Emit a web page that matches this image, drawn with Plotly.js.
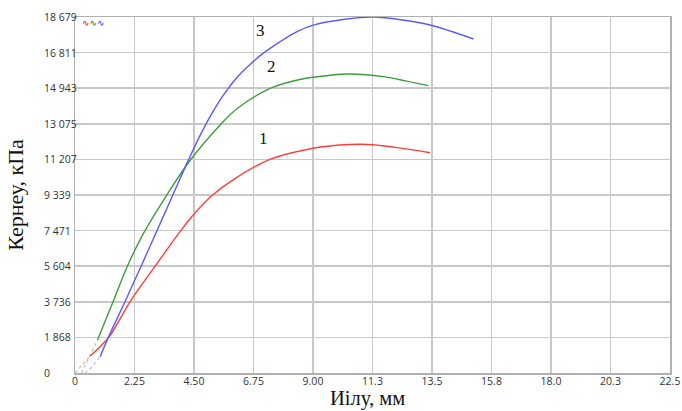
<!DOCTYPE html>
<html>
<head>
<meta charset="utf-8">
<script src="https://cdn.plot.ly/plotly-3.0.1.min.js"></script>
<style>
  html, body { margin: 0; padding: 0; background: #fff; }
  #chart { width: 682px; height: 411px; }
</style>
</head>
<body>
<div id="chart"></div>
<script>
// ---- data ----
const xTickVals = [0, 2.25, 4.5, 6.75, 9, 11.25, 13.5, 15.75, 18, 20.25, 22.5];
const xTickText = ["0", "2.25", "4.50", "6.75", "9.00", "11.3", "13.5", "15.8", "18.0", "20.3", "22.5"];
const yTickVals = [0, 1868, 3736, 5604, 7471, 9339, 11207, 13075, 14943, 16811, 18679];
const yTickText = ["0", "1 868", "3 736", "5 604", "7 471", "9 339", "11 207", "13 075", "14 943", "16 811", "18 679"];
const xTitle = "Иілу, мм";
const yTitle = "Кернеу, кПа";

// curve 1 (red)
const redStartX = [0, 0.57];
const redStartY = [0, 892];
const redX = [0.57, 0.95, 1.32, 2.08, 3.03, 3.91, 4.47, 5.17, 5.99, 7.37, 9.01, 10.0, 10.78, 11.27, 12.3, 13.43];
const redY = [892, 1380, 1950, 3736, 5604, 7300, 8290, 9300, 10150, 11207, 11790, 11960, 12000, 11980, 11800, 11559];

// curve 2 (green)
const greenStartX = [0.25, 0.85];
const greenStartY = [0, 1731];
const greenX = [0.85, 1.44, 1.98, 2.6, 3.47, 4.35, 5.48, 6.11, 7.4, 8.5, 9.5, 10.4, 11.66, 12.5, 13.36];
const greenY = [1731, 3736, 5604, 7350, 9339, 11150, 13000, 13850, 14943, 15400, 15600, 15689, 15550, 15330, 15075];

// curve 3 (blue)
const blueStartX = [0.38, 0.6, 0.95];
const blueStartY = [0, 250, 855];
const blueX = [0.95, 1.26, 1.89, 2.5, 3.1, 3.7, 4.3, 4.75, 5.2, 5.65, 6.2, 6.75, 7.0, 7.5, 8.38, 9.01, 10.2, 11.28, 12.4, 13.43, 15.07];
const blueY = [855, 1868, 3736, 5604, 7471, 9339, 11207, 12524, 13674, 14655, 15627, 16350, 16650, 17150, 17900, 18250, 18560, 18680, 18520, 18260, 17525];

const curveLabels = ["1", "2", "3"];
const labelX = [7.12, 7.44, 7.0];
const labelY = [12315, 16072, 17997];

const RED = "#ff3c3c", GREEN = "#3c9e3c", BLUE = "#5a5aff";

function faint(x, y, c) {
  return { x: x, y: y, mode: "lines", type: "scatter", hoverinfo: "skip",
    line: { color: c, width: 1.2, dash: "dot" }, opacity: 0.45, showlegend: false };
}
function solid(x, y, c) {
  return { x: x, y: y, mode: "lines", type: "scatter",
    line: { color: c, width: 1.4, shape: "spline", smoothing: 1 }, showlegend: false };
}

const traces = [
  faint(redStartX, redStartY, RED),
  faint(greenStartX, greenStartY, GREEN),
  faint(blueStartX, blueStartY, BLUE),
  solid(redX, redY, RED),
  solid(greenX, greenY, GREEN),
  solid(blueX, blueY, BLUE)
];

const annotations = [];
// y tick labels, left-aligned like the reference
yTickVals.forEach((v, i) => {
  annotations.push({ xref: "paper", yref: "y", x: -0.0555, y: v, xanchor: "left", yanchor: "middle",
    text: yTickText[i], showarrow: false, font: { family: "Open Sans, sans-serif", size: 10.5, color: "#333" } });
});
// curve labels
curveLabels.forEach((t, i) => {
  annotations.push({ xref: "x", yref: "y", x: labelX[i], y: labelY[i], text: t, showarrow: false,
    xanchor: "center", yanchor: "middle",
    font: { family: "Liberation Serif, Times New Roman, serif", size: 17, color: "#111" } });
});
// x axis title
annotations.push({ xref: "paper", yref: "paper", x: 0.491, y: -0.1067, xanchor: "center", yanchor: "bottom",
  showarrow: false, text: xTitle, borderpad: 0,
  font: { family: "Liberation Serif, Times New Roman, serif", size: 20.5, color: "#111" } });
// small legend glyphs
annotations.push({ xref: "paper", yref: "paper", x: 0.008, y: 0.984, xanchor: "left", yanchor: "middle",
  showarrow: false,
  text: "<b><span style='color:" + RED + "'>∿</span><span style='color:" + GREEN + "'>∿</span><span style='color:" + BLUE + "'>∿</span></b>",
  font: { family: "DejaVu Sans, sans-serif", size: 9 } });

const layout = {
  width: 682, height: 411,
  margin: { l: 75, r: 12, t: 17, b: 38 },
  paper_bgcolor: "#fff", plot_bgcolor: "#fff",
  showlegend: false,
  xaxis: {
    range: [0, 22.5], tickvals: xTickVals, ticktext: xTickText,
    showgrid: true, gridcolor: "#c8c8c8", gridwidth: 1.5,
    showline: true, linecolor: "#b0b0b0", linewidth: 1.5, mirror: true,
    zeroline: false, ticks: "", ticklabelstandoff: -2,
    tickfont: { family: "Open Sans, sans-serif", size: 10.5, color: "#333" }
  },
  yaxis: {
    range: [0, 18679], tickvals: yTickVals, ticktext: yTickText, showticklabels: false,
    showgrid: true, gridcolor: "#c8c8c8", gridwidth: 1.5,
    showline: true, linecolor: "#b0b0b0", linewidth: 1.5, mirror: true,
    zeroline: false, ticks: "",
    title: { text: yTitle, standoff: 44,
      font: { family: "Liberation Serif, Times New Roman, serif", size: 22, color: "#111" } }
  },
  annotations: annotations
};

Plotly.newPlot("chart", traces, layout, { displayModeBar: false, staticPlot: true });
</script>
</body>
</html>
